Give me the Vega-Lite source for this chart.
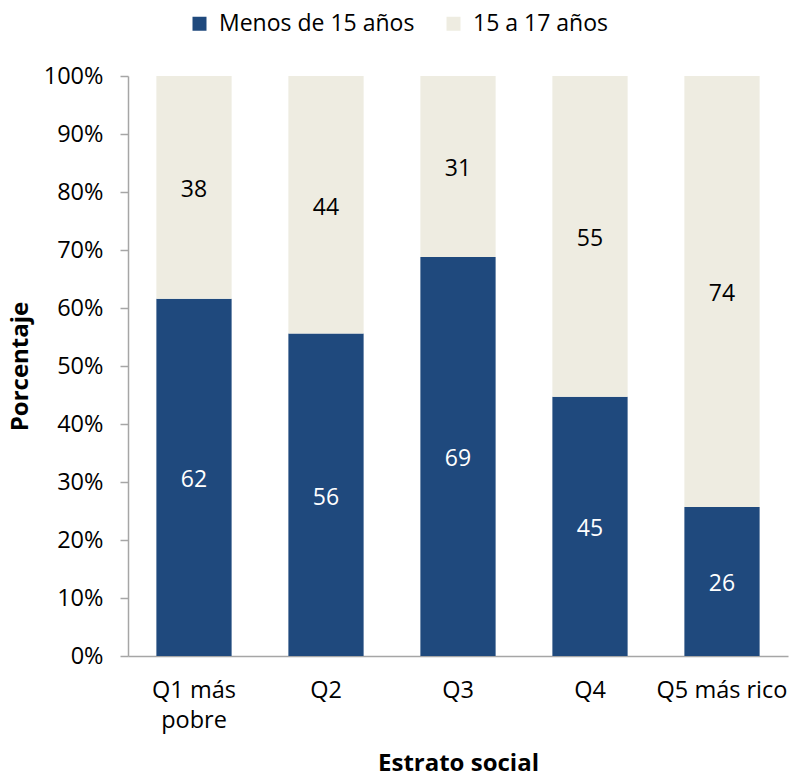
{
  "$schema": "https://vega.github.io/schema/vega-lite/v6.json",
  "width": 660,
  "height": 580,
  "autosize": {"type": "none"},
  "padding": {"left": 128, "top": 76, "right": 2, "bottom": 120},
  "background": "white",
  "config": {
    "view": {"stroke": null},
    "font": "Open Sans",
    "axis": {"labelFont": "Open Sans", "titleFont": "Open Sans", "labelColor": "#000000", "titleColor": "#000000"},
    "legend": {"labelFont": "Open Sans"}
  },
  "data": {
    "values": [
      {"estrato": "Q1 más pobre", "grupo": "Menos de 15 años", "valor": 61.6},
      {"estrato": "Q1 más pobre", "grupo": "15 a 17 años", "valor": 38.4},
      {"estrato": "Q2", "grupo": "Menos de 15 años", "valor": 55.6},
      {"estrato": "Q2", "grupo": "15 a 17 años", "valor": 44.4},
      {"estrato": "Q3", "grupo": "Menos de 15 años", "valor": 68.8},
      {"estrato": "Q3", "grupo": "15 a 17 años", "valor": 31.2},
      {"estrato": "Q4", "grupo": "Menos de 15 años", "valor": 44.7},
      {"estrato": "Q4", "grupo": "15 a 17 años", "valor": 55.3},
      {"estrato": "Q5 más rico", "grupo": "Menos de 15 años", "valor": 25.7},
      {"estrato": "Q5 más rico", "grupo": "15 a 17 años", "valor": 74.3}
    ]
  },
  "transform": [
    {"stack": "valor", "groupby": ["estrato"], "sort": [{"field": "grupo", "order": "descending"}], "as": ["v0", "v1"]},
    {"calculate": "(datum.v0 + datum.v1) / 2", "as": "mid"}
  ],
  "encoding": {
    "x": {
      "field": "estrato",
      "type": "nominal",
      "sort": null,
      "scale": {"paddingInner": 0.43, "paddingOuter": 0.215},
      "axis": {
        "title": "Estrato social",
        "titleFontSize": 24,
        "titleFontWeight": "bold",
        "titleX": 330,
        "titleY": 114,
        "titleBaseline": "alphabetic",
        "labelAngle": 0,
        "labelFontSize": 23.5,
        "labelPadding": 22,
        "labelLineHeight": 30,
        "labelExpr": "datum.label == 'Q1 más pobre' ? ['Q1 más', 'pobre'] : datum.label",
        "ticks": false,
        "domainColor": "#A6A6A6",
        "domainWidth": 1.5
      }
    }
  },
  "layer": [
    {
      "mark": {"type": "bar"},
      "encoding": {
        "y": {
          "field": "v0",
          "type": "quantitative",
          "scale": {"domain": [0, 100], "nice": false},
          "axis": {
            "title": "Porcentaje",
            "titleFontSize": 24,
            "titleFontWeight": "bold",
            "titleAngle": -90,
            "titleX": -108,
            "titleY": 290,
            "titleAlign": "center",
            "titleBaseline": "middle",
            "values": [0, 10, 20, 30, 40, 50, 60, 70, 80, 90, 100],
            "labelExpr": "datum.value + '%'",
            "labelFontSize": 23.5,
            "labelPadding": 17,
            "tickSize": 8,
            "tickColor": "#A6A6A6",
            "domainColor": "#A6A6A6",
            "domainWidth": 1.5,
            "tickWidth": 1.5,
            "grid": false
          }
        },
        "y2": {"field": "v1"},
        "color": {
          "field": "grupo",
          "type": "nominal",
          "scale": {"domain": ["Menos de 15 años", "15 a 17 años"], "range": ["#1F497D", "#EEECE1"]},
          "legend": {
            "title": null,
            "orient": "none",
            "direction": "horizontal",
            "legendX": 60,
            "legendY": -64,
            "symbolType": "square",
            "symbolSize": 196,
            "symbolStrokeWidth": 0,
            "labelFontSize": 23,
            "labelLimit": 0,
            "labelOffset": 8,
            "columnPadding": 27,
            "labelColor": "#000000"
          }
        }
      }
    },
    {
      "mark": {"type": "text", "fontSize": 23, "baseline": "middle", "align": "center", "dy": 3},
      "encoding": {
        "y": {"field": "mid", "type": "quantitative"},
        "text": {"field": "valor", "type": "quantitative", "format": ".0f"},
        "color": {
          "condition": {"test": "datum.grupo == 'Menos de 15 años'", "value": "#FFFFFF"},
          "value": "#000000"
        }
      }
    }
  ]
}
